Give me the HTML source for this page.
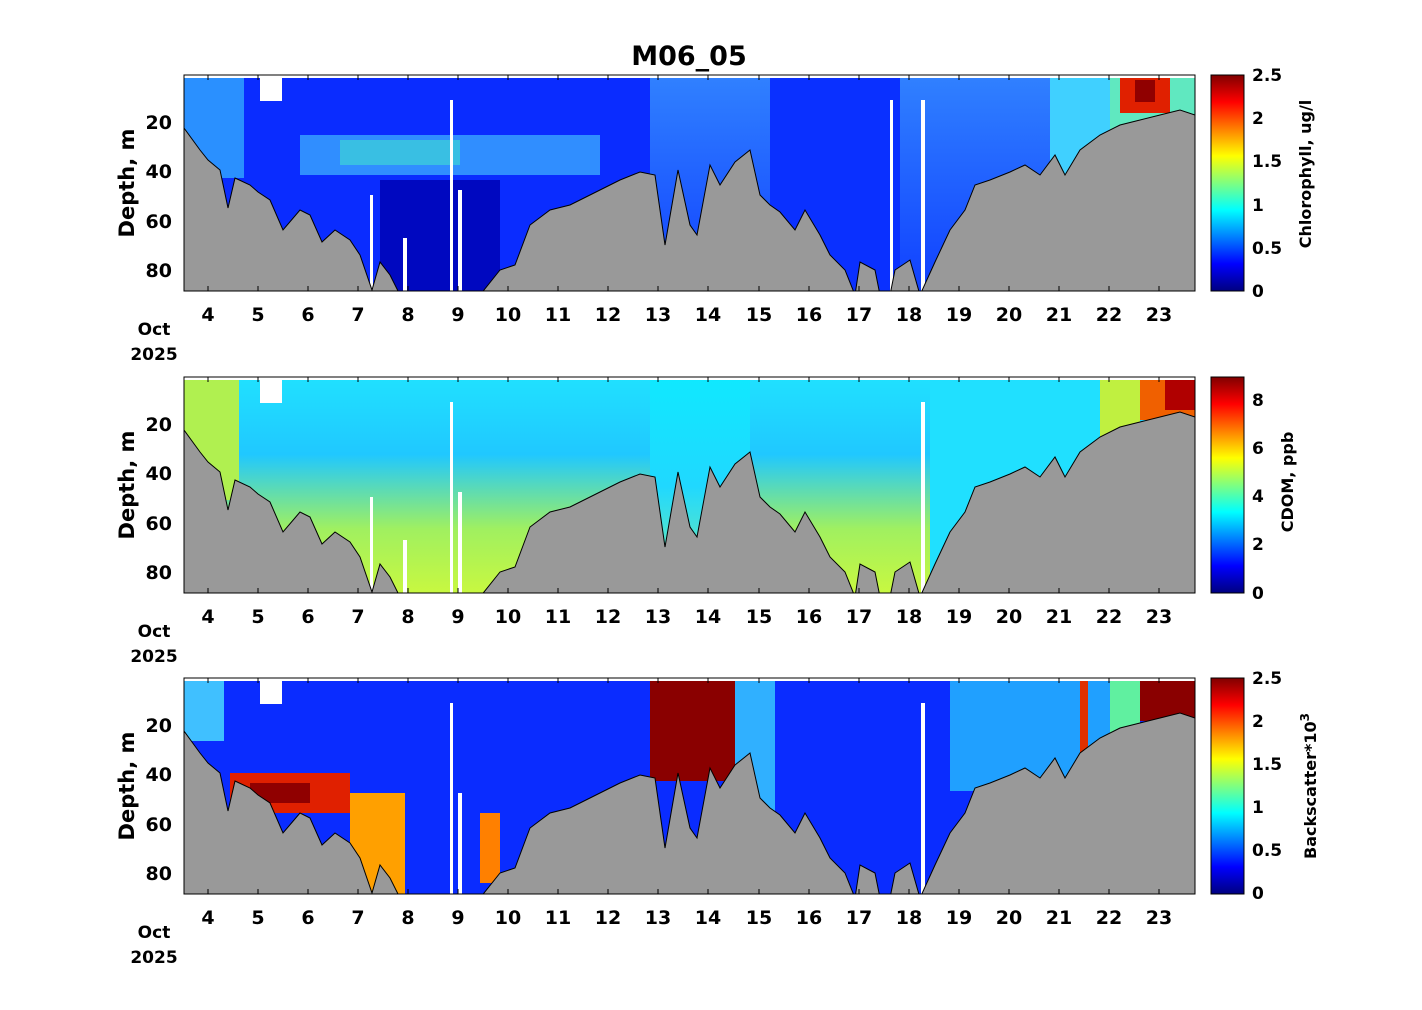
<!DOCTYPE html>
<html><head><meta charset="utf-8"><style>
body{margin:0;background:#fff;}
svg text{font-family:"DejaVu Sans","Liberation Sans",sans-serif;font-weight:bold;}
</style></head><body>
<svg width="1422" height="1005" viewBox="0 0 1422 1005" xmlns="http://www.w3.org/2000/svg">
<defs>
<linearGradient id="jet" x1="0" y1="1" x2="0" y2="0">
<stop offset="0" stop-color="#000080"/><stop offset="0.125" stop-color="#0000ff"/><stop offset="0.375" stop-color="#00ffff"/><stop offset="0.625" stop-color="#ffff00"/><stop offset="0.875" stop-color="#ff0000"/><stop offset="1" stop-color="#800000"/>
</linearGradient>
<linearGradient id="c2a" x1="0" y1="0" x2="0" y2="1"><stop offset="0" stop-color="#20e0ff"/><stop offset="0.35" stop-color="#20c8ff"/><stop offset="0.7" stop-color="#a0f060"/><stop offset="1" stop-color="#c8f840"/></linearGradient>
<linearGradient id="c2b" x1="0" y1="0" x2="0" y2="1"><stop offset="0" stop-color="#10e8ff"/><stop offset="0.5" stop-color="#20d8ff"/><stop offset="1" stop-color="#80f0a0"/></linearGradient>
<linearGradient id="c1b" x1="0" y1="0" x2="0" y2="1"><stop offset="0" stop-color="#3080ff"/><stop offset="1" stop-color="#1040ff"/></linearGradient>
<clipPath id="p"><rect x="184" y="75" width="1011" height="216"/></clipPath>
</defs>
<text x="689" y="65" font-size="27" text-anchor="middle">M06_05</text>

<!-- Panel 1 -->
<g clip-path="url(#p)">
<rect x="184" y="78" width="1011" height="213" fill="#0a2cff"/>
<rect x="184" y="78" width="60" height="100" fill="#2a90ff"/>
<rect x="380" y="180" width="120" height="111" fill="#0008c0"/>
<rect x="300" y="135" width="300" height="40" fill="#3aa8ff" opacity="0.8"/>
<rect x="340" y="140" width="120" height="25" fill="#40e0d0" opacity="0.6"/>
<rect x="650" y="78" width="410" height="213" fill="url(#c1b)"/>
<rect x="770" y="78" width="130" height="213" fill="#0a30ff"/>
<rect x="1050" y="78" width="60" height="100" fill="#40d0ff"/>
<rect x="1110" y="78" width="85" height="60" fill="#60e8c0"/>
<rect x="1120" y="78" width="50" height="35" fill="#e02000"/>
<rect x="1135" y="80" width="20" height="22" fill="#900000"/>
<rect x="260" y="75" width="22" height="26" fill="#fff"/>
<rect x="450" y="100" width="3" height="191" fill="#fff"/>
<rect x="458" y="190" width="4" height="101" fill="#fff"/>
<rect x="370" y="195" width="3" height="96" fill="#fff"/>
<rect x="403" y="238" width="4" height="53" fill="#fff"/>
<rect x="890" y="100" width="3" height="191" fill="#fff"/>
<rect x="921" y="100" width="4" height="191" fill="#fff"/>
<rect x="184" y="75" width="1011" height="3" fill="#fff"/>
<g id="bath">
<polygon fill="#999" stroke="#000" stroke-width="1" points="184,128 200,150 208,160 220,170 228,208 235,178 250,185 258,192 270,200 283,230 300,210 310,215 322,242 335,230 350,240 360,255 372,290 380,262 390,275 400,295 480,295 500,270 515,265 530,225 550,210 570,205 580,200 600,190 620,180 640,172 655,175 665,245 678,170 690,225 697,235 710,165 720,185 735,162 750,150 760,195 770,205 780,212 795,230 805,210 820,235 830,255 845,270 855,295 860,262 875,270 880,295 890,295 895,270 910,260 920,295 935,262 950,230 965,210 975,185 990,180 1010,172 1025,165 1040,175 1055,155 1065,175 1080,150 1100,135 1120,125 1140,120 1160,115 1180,110 1195,115 1195,295 184,295"/>
</g>
</g>
<rect x="184" y="75" width="1011" height="216" fill="none" stroke="#000" stroke-width="1"/>

<!-- Panel 2 -->
<g clip-path="url(#p)" transform="translate(0,302)">
<rect x="184" y="78" width="1011" height="213" fill="url(#c2a)"/>
<rect x="184" y="78" width="55" height="120" fill="#b0f050"/>
<rect x="650" y="78" width="100" height="213" fill="url(#c2b)"/>
<rect x="930" y="78" width="180" height="213" fill="#20e0ff"/>
<rect x="1100" y="78" width="40" height="60" fill="#c0f040"/>
<rect x="1140" y="78" width="55" height="40" fill="#f06000"/>
<rect x="1165" y="78" width="30" height="30" fill="#b00000"/>
<rect x="260" y="75" width="22" height="26" fill="#fff"/>
<rect x="450" y="100" width="3" height="191" fill="#fff"/>
<rect x="458" y="190" width="4" height="101" fill="#fff"/>
<rect x="370" y="195" width="3" height="96" fill="#fff"/>
<rect x="403" y="238" width="4" height="53" fill="#fff"/>
<rect x="921" y="100" width="4" height="191" fill="#fff"/>
<rect x="184" y="75" width="1011" height="3" fill="#fff"/>
<use href="#bath"/>
</g>
<rect x="184" y="377" width="1011" height="216" fill="none" stroke="#000" stroke-width="1"/>

<!-- Panel 3 -->
<g clip-path="url(#p)" transform="translate(0,603)">
<rect x="184" y="78" width="1011" height="213" fill="#0a2cff"/>
<rect x="184" y="78" width="40" height="60" fill="#40c0ff"/>
<rect x="230" y="170" width="120" height="40" fill="#e02000"/>
<rect x="250" y="180" width="60" height="20" fill="#900000"/>
<rect x="350" y="190" width="55" height="101" fill="#ffa000"/>
<rect x="480" y="210" width="20" height="70" fill="#ff8000"/>
<rect x="650" y="78" width="85" height="100" fill="#8a0000"/>
<rect x="735" y="78" width="40" height="213" fill="#30b0ff"/>
<rect x="950" y="78" width="160" height="110" fill="#20a0ff"/>
<rect x="1080" y="78" width="8" height="80" fill="#e03000"/>
<rect x="1110" y="78" width="30" height="60" fill="#60f0a0"/>
<rect x="1140" y="78" width="55" height="40" fill="#8a0000"/>
<rect x="260" y="75" width="22" height="26" fill="#fff"/>
<rect x="450" y="100" width="3" height="191" fill="#fff"/>
<rect x="458" y="190" width="4" height="101" fill="#fff"/>
<rect x="921" y="100" width="4" height="191" fill="#fff"/>
<rect x="184" y="75" width="1011" height="3" fill="#fff"/>
<use href="#bath"/>
</g>
<rect x="184" y="678" width="1011" height="216" fill="none" stroke="#000" stroke-width="1"/>

<!-- Axes text -->
<g font-size="19">
<g id="ax">
<text x="172" y="129" text-anchor="end">20</text>
<text x="172" y="178" text-anchor="end">40</text>
<text x="172" y="228" text-anchor="end">60</text>
<text x="172" y="277" text-anchor="end">80</text>
<text transform="translate(134,183) rotate(-90)" text-anchor="middle" font-size="21">Depth, m</text>
<text y="321" text-anchor="middle">
<tspan x="208">4</tspan><tspan x="258">5</tspan><tspan x="308">6</tspan><tspan x="358">7</tspan><tspan x="408">8</tspan><tspan x="458">9</tspan><tspan x="508">10</tspan><tspan x="558">11</tspan><tspan x="608">12</tspan><tspan x="658">13</tspan><tspan x="708">14</tspan><tspan x="759">15</tspan><tspan x="809">16</tspan><tspan x="859">17</tspan><tspan x="909">18</tspan><tspan x="959">19</tspan><tspan x="1009">20</tspan><tspan x="1059">21</tspan><tspan x="1109">22</tspan><tspan x="1159">23</tspan></text>
<text x="154" y="335" text-anchor="middle" font-size="17">Oct</text>
<text x="154" y="360" text-anchor="middle" font-size="17">2025</text>
<g stroke="#000" stroke-width="1"><path d="M208,291v-5M258,291v-5M308,291v-5M358,291v-5M408,291v-5M458,291v-5M508,291v-5M558,291v-5M608,291v-5M658,291v-5M708,291v-5M759,291v-5M809,291v-5M859,291v-5M909,291v-5M959,291v-5M1009,291v-5M1059,291v-5M1109,291v-5M1159,291v-5M208,75v5M258,75v5M308,75v5M358,75v5M408,75v5M458,75v5M508,75v5M558,75v5M608,75v5M658,75v5M708,75v5M759,75v5M809,75v5M859,75v5M909,75v5M959,75v5M1009,75v5M1059,75v5M1109,75v5M1159,75v5"/></g>
</g>
<use href="#ax" transform="translate(0,302)"/>
<use href="#ax" transform="translate(0,603)"/>
</g>

<!-- Colorbars -->
<rect x="1211" y="75" width="33" height="216" fill="url(#jet)" stroke="#000"/>
<rect x="1211" y="377" width="33" height="216" fill="url(#jet)" stroke="#000"/>
<rect x="1211" y="678" width="33" height="216" fill="url(#jet)" stroke="#000"/>
<g font-size="17">
<text x="1252" y="81">2.5</text><text x="1252" y="124">2</text><text x="1252" y="167">1.5</text><text x="1252" y="211">1</text><text x="1252" y="254">0.5</text><text x="1252" y="297">0</text>
<text x="1252" y="406">8</text><text x="1252" y="454">6</text><text x="1252" y="502">4</text><text x="1252" y="550">2</text><text x="1252" y="599">0</text>
<text x="1252" y="684">2.5</text><text x="1252" y="727">2</text><text x="1252" y="770">1.5</text><text x="1252" y="813">1</text><text x="1252" y="856">0.5</text><text x="1252" y="899">0</text>
<text transform="translate(1311,174) rotate(-90)" text-anchor="middle" font-size="16">Chlorophyll, ug/l</text>
<text transform="translate(1293,482) rotate(-90)" text-anchor="middle" font-size="16">CDOM, ppb</text>
<text transform="translate(1316,786) rotate(-90)" text-anchor="middle" font-size="16">Backscatter*10<tspan dy="-7" font-size="12">3</tspan></text>
</g>
</svg>
</body></html>
